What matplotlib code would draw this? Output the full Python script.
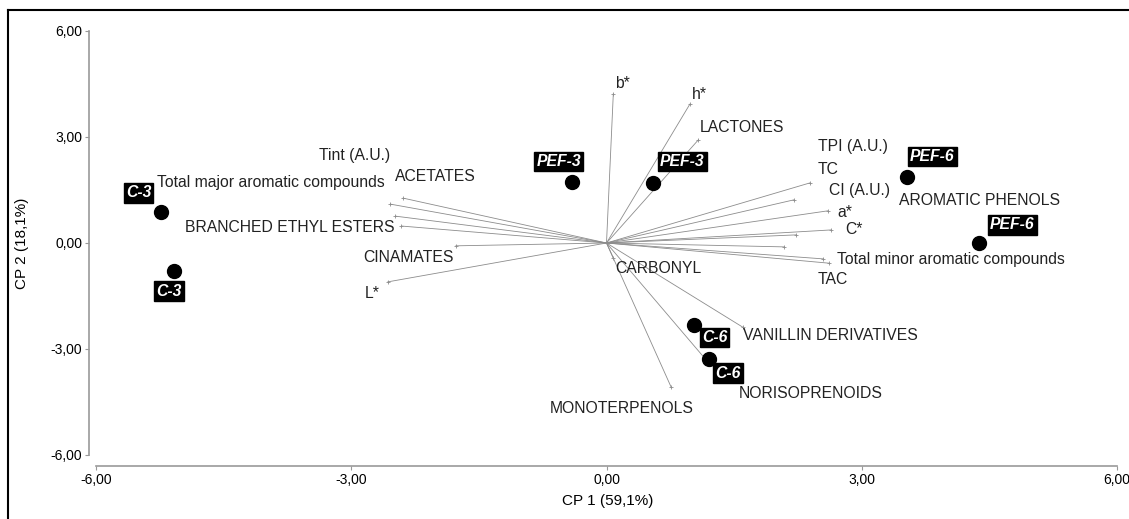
import numpy as np
import matplotlib.pyplot as plt
from matplotlib.lines import Line2D

plt.rcParams['font.family'] = ['Liberation Sans', 'DejaVu Sans']

# Puntuaciones (observaciones)
obs_names = ['C-3', 'C-3', 'PEF-3', 'PEF-3', 'PEF-6', 'PEF-6', 'C-6', 'C-6']
obs_x = [-5.24, -5.08, -0.40, 0.55, 3.53, 4.38, 1.03, 1.20]
obs_y = [0.88, -0.79, 1.73, 1.70, 1.87, 0.00, -2.32, -3.28]
# posicion de la etiqueta de cada observacion
obs_lx = [-5.50, -5.14, -0.56, 0.89, 3.83, 4.77, 1.27, 1.43]
obs_ly = [1.42, -1.36, 2.30, 2.30, 2.44, 0.51, -2.68, -3.68]

# Cargas (variables)
var_names = ['b*', 'h*', 'LACTONES', 'ACETATES', 'Total major aromatic compounds',
             'Tint (A.U.)', 'BRANCHED ETHYL ESTERS', 'CINAMATES', 'L*',
             'TPI (A.U.)', 'TC', 'a*', 'C*', 'CI (A.U.)', 'AROMATIC PHENOLS',
             'Total minor aromatic compounds', 'TAC', 'CARBONYL',
             'VANILLIN DERIVATIVES', 'NORISOPRENOIDS', 'MONOTERPENOLS']
var_x = [0.08, 0.98, 1.08, -2.39, -2.54, -2.48, -2.41, -1.77, -2.57,
         2.39, 2.20, 2.60, 2.64, 2.23, 2.09, 2.61, 2.55, 0.08, 1.60, 1.15, 0.76]
var_y = [4.22, 3.93, 2.92, 1.27, 1.10, 0.76, 0.48, -0.08, -1.10,
         1.70, 1.22, 0.91, 0.37, 0.23, -0.11, -0.57, -0.45, -0.42, -2.38, -3.25, -4.08]
# posicion de las etiquetas de variables
var_lx = [0.10, 1.00, 1.10, -2.49, -2.61, -2.54, -2.49, -1.80, -2.66,
          2.48, 2.48, 2.71, 2.81, 2.62, 3.44, 2.71, 2.48, 0.10, 1.60, 1.56, -0.67]
var_ly = [4.50, 4.19, 3.26, 1.87, 1.70, 2.49, 0.45, -0.40, -1.42,
          2.72, 2.07, 0.85, 0.37, 1.50, 1.19, -0.48, -1.02, -0.71, -2.63, -4.25, -4.67]
var_ha = ['left', 'left', 'left', 'left', 'right', 'right', 'right', 'right', 'right',
          'left', 'left', 'left', 'left', 'left', 'left', 'left', 'left', 'left',
          'left', 'left', 'left']

W, H = 1129, 519
fig = plt.figure(figsize=(W / 100, H / 100), dpi=100)
ax = fig.add_axes([96 / W, 1 - 455 / H, (1117 - 96) / W, (455 - 31) / H])

# vectores
for vx, vy in zip(var_x, var_y):
    ax.plot([0, vx], [0, vy], color='#8c8c8c', lw=0.6, zorder=1)
    ax.plot(vx, vy, marker='+', ms=3, mew=0.6, color='#8c8c8c', zorder=1)
for name, lx, ly, ha in zip(var_names, var_lx, var_ly, var_ha):
    ax.text(lx, ly, name, ha=ha, va='center', fontsize=11.3, color='#222222', zorder=3)

# puntos
ax.scatter(obs_x, obs_y, s=100, color='black', zorder=4)
for name, lx, ly in zip(obs_names, obs_lx, obs_ly):
    ax.text(lx, ly, name, ha='center', va='center', fontsize=11.3, color='white',
            fontweight='bold', fontstyle='italic', zorder=5,
            bbox=dict(boxstyle='square,pad=0.14', fc='black', ec='black'))

ax.set_xlim(-6, 6)
ax.set_ylim(-6, 6)
ticks = [-6, -3, 0, 3, 6]
tick_labels = ['-6,00', '-3,00', '0,00', '3,00', '6,00']
ax.set_xticks(ticks)
ax.set_yticks(ticks)
ax.set_xticklabels(tick_labels, fontweight='bold', fontsize=8.5)
ax.set_yticklabels(tick_labels, fontweight='bold', fontsize=8.5)
ax.tick_params(length=3, width=0.8, color='#999999', pad=2)
for s in ['top', 'right']:
    ax.spines[s].set_visible(False)
ax.spines['left'].set_position(('outward', 5))
ax.spines['bottom'].set_position(('outward', 8))
for s in ['left', 'bottom']:
    ax.spines[s].set_color('#999999')
    ax.spines[s].set_linewidth(1.2)
ax.patch.set_alpha(0)

fig.text(608 / W, 1 - 501 / H, 'CP 1 (59,1%)', ha='center', va='center', fontsize=11)
fig.text(22 / W, 1 - 243 / H, 'CP 2 (18,1%)', ha='center', va='center', rotation=90, fontsize=11)

# marco exterior (izquierda y arriba)
fig.add_artist(Line2D([8 / W, 8 / W], [0, 1 - 10 / H], transform=fig.transFigure, color='black', lw=1.5))
fig.add_artist(Line2D([8 / W, 1], [1 - 10 / H, 1 - 10 / H], transform=fig.transFigure, color='black', lw=1.5))

fig.savefig('out.png', dpi=100)
